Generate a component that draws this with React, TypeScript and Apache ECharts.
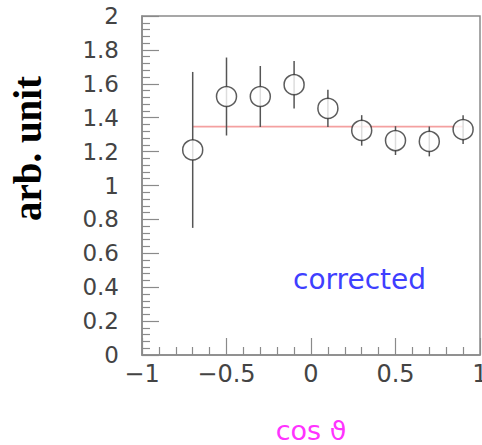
import React, { useEffect, useRef } from "react";
import * as echarts from "echarts";

const cosTheta = [-0.7, -0.5, -0.3, -0.1, 0.1, 0.3, 0.5, 0.7, 0.9];
const values = [1.21, 1.525, 1.525, 1.595, 1.455, 1.325, 1.265, 1.26, 1.33];
const errors = [0.46, 0.23, 0.18, 0.14, 0.11, 0.09, 0.085, 0.088, 0.085];
const fitValue = 1.347;
const fitRange = [-0.7, 0.9];

export default function App() {
  const ref = useRef<HTMLDivElement>(null);
  useEffect(() => {
    document.body.style.margin = "0";
    const chart = echarts.init(ref.current!, null, { renderer: "svg" });
    const pts = cosTheta.map((x, i) => [x, values[i]]);
    const errData = cosTheta.map((x, i) => [x, values[i], errors[i]]);
    const frame = "#8a8a8a";
    const tickFont = "DejaVu Sans";
    chart.setOption({
      animation: false,
      backgroundColor: "#ffffff",
      grid: {
        left: 142,
        right: 2,
        top: 16,
        bottom: 90,
        outerBoundsMode: "none",
        containLabel: false,
        show: true,
        borderColor: frame,
        borderWidth: 1.5,
        backgroundColor: "transparent",
      },
      xAxis: {
        type: "value",
        min: -1,
        max: 1,
        interval: 0.5,
        name: "cos ϑ",
        nameLocation: "middle",
        nameGap: 62,
        nameTextStyle: { color: "#ff33ff", fontSize: 27, fontFamily: tickFont },
        axisLine: { show: true, onZero: false, lineStyle: { color: frame, width: 1.5 } },
        axisTick: { show: true, inside: true, length: 17, lineStyle: { color: frame, width: 1.2 } },
        minorTick: { show: true, splitNumber: 5, length: 8, lineStyle: { color: frame, width: 1.2 } },
        splitLine: { show: false },
        axisLabel: {
          fontSize: 24,
          fontFamily: tickFont,
          color: "#444",
          margin: 7,
          formatter: (v: number) => String(v).replace("-", "\u2212"),
        },
      },
      yAxis: {
        type: "value",
        min: 0,
        max: 2,
        interval: 0.2,
        name: "arb. unit",
        nameLocation: "middle",
        nameRotate: 90,
        nameGap: 95,
        nameTextStyle: {
          color: "#000",
          fontSize: 39,
          fontWeight: "bold",
          fontFamily: "Liberation Serif",
          padding: [0, 0, 0, 74],
        },
        axisLine: { show: true, onZero: false, lineStyle: { color: frame, width: 1.5 } },
        axisTick: { show: true, inside: true, length: 17, lineStyle: { color: frame, width: 1.2 } },
        minorTick: { show: true, splitNumber: 5, length: 8, lineStyle: { color: frame, width: 1.2 } },
        splitLine: { show: false },
        axisLabel: { fontSize: 23, fontFamily: tickFont, color: "#444", margin: 23, padding: [5, 0, 0, 0] },
      },
      graphic: [
        {
          type: "text",
          x: 293,
          y: 279,
          style: {
            text: "corrected",
            fill: "#3f3fff",
            fontSize: 28,
            fontFamily: tickFont,
            verticalAlign: "middle",
            align: "left",
          },
        },
      ],
      series: [
        {
          type: "line",
          data: [
            [fitRange[0], fitValue],
            [fitRange[1], fitValue],
          ],
          showSymbol: false,
          lineStyle: { color: "#f4a0a0", width: 1.8 },
          z: 1,
        },
        {
          type: "custom",
          data: errData,
          z: 2,
          renderItem: (params: any, api: any) => {
            const x = api.value(0);
            const y = api.value(1);
            const e = api.value(2);
            const top = api.coord([x, y + e]);
            const bot = api.coord([x, y - e]);
            return {
              type: "line",
              shape: { x1: top[0], y1: top[1], x2: bot[0], y2: bot[1] },
              style: { stroke: "#555", lineWidth: 1.5 },
            };
          },
        },
        {
          type: "scatter",
          data: pts,
          symbol: "circle",
          symbolSize: 20,
          itemStyle: { color: "#ffffff", borderColor: "#333", borderWidth: 1.5 },
          z: 3,
        },
      ],
    });
    return () => chart.dispose();
  }, []);
  return <div ref={ref} style={{ width: 482, height: 445 }} />;
}
